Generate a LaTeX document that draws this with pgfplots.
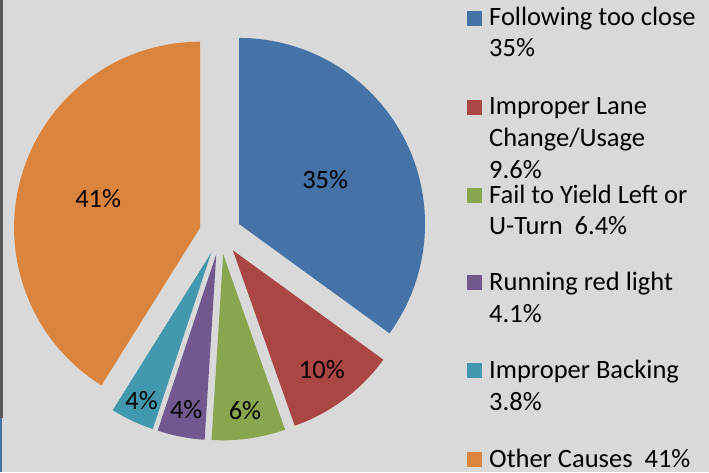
\documentclass[border=0pt]{standalone}
\usepackage{fontspec}
\setmainfont{Carlito}
\usepackage{pgfplots}
\pgfplotsset{compat=1.18}
\usepackage{pgfplotstable}
\definecolor{bg}{HTML}{D9D9D9}
\definecolor{slice0}{HTML}{4572A7}
\definecolor{slice1}{HTML}{AA4643}
\definecolor{slice2}{HTML}{89A54E}
\definecolor{slice3}{HTML}{71588F}
\definecolor{slice4}{HTML}{4198AF}
\definecolor{slice5}{HTML}{DB843D}

% share in percent, label distance as a fraction of the radius
\pgfplotstableread{
share lpos
35.0  0.52
9.6   0.80
6.4   0.85
4.1   0.85
3.8   0.88
41.1  0.57
}\piedata

\newcommand\legkey[2]{\fill[#2] (axis cs:467,{472-#1}) rectangle (axis cs:482,{487-#1});}
\newcommand\legline[2]{\node[anchor=base west, inner sep=0pt] at (axis cs:489,{472-#1}) {#2};}

\begin{document}
\begin{tikzpicture}[font={\fontsize{26.5}{31}\selectfont}]
\begin{axis}[
  hide axis, scale only axis, width=709pt, height=472pt,
  xmin=0, xmax=709, ymin=0, ymax=472, clip=false,
]
\fill[bg] (axis cs:0,0) rectangle (axis cs:709,472);
\fill[black!65] (axis cs:0,54) rectangle (axis cs:2.5,472);
\fill[slice0] (axis cs:0,0) rectangle (axis cs:1.5,54);
\coordinate (ll) at (axis cs:0,0);
\coordinate (ur) at (axis cs:709,472);

\def\cum{0}
\pgfplotsforeachungrouped \i in {0,...,5}{%
  \pgfplotstablegetelem{\i}{share}\of\piedata \let\share\pgfplotsretval
  \pgfplotstablegetelem{\i}{lpos}\of\piedata \let\lpos\pgfplotsretval
  \pgfmathsetmacro\aone{90-3.6*\cum}
  \pgfmathsetmacro\atwo{90-3.6*(\cum+\share)}
  \pgfmathsetmacro\amid{(\aone+\atwo)/2}
  \pgfmathsetmacro\vx{220.3+21*cos(\amid)}
  \pgfmathsetmacro\vy{238.5+21*sin(\amid)}
  \pgfmathsetmacro\lx{\vx+186*\lpos*cos(\amid)}
  \pgfmathsetmacro\ly{\vy+186*\lpos*sin(\amid)}
  \pgfmathtruncatemacro\pct{round(\share)}
  \edef\doslice{\noexpand\fill[slice\i] (axis cs:\vx,\vy) -- ([shift={(\aone:186pt)}]axis cs:\vx,\vy) arc[start angle=\aone, end angle=\atwo, radius=186pt] -- cycle;}
  \doslice
  \edef\dolabel{\noexpand\node at (axis cs:\lx,\ly) {\pct\noexpand\%};}
  \dolabel
  \pgfmathsetmacro\cum{\cum+\share}
}

\legkey{26}{slice0}
\legline{26}{Following too close}
\legline{57}{35\%}
\legkey{115}{slice1}
\legline{115}{Improper Lane}
\legline{147}{Change/Usage}
\legline{178}{9.6\%}
\legkey{203}{slice2}
\legline{203}{Fail to Yield Left or}
\legline{234}{U-Turn\ \ 6.4\%}
\legkey{290}{slice3}
\legline{290}{Running red light}
\legline{322}{4.1\%}
\legkey{378}{slice4}
\legline{378}{Improper Backing}
\legline{410}{3.8\%}
\legkey{467}{slice5}
\legline{467}{Other Causes\ \ 41\%}
\end{axis}
\pgfresetboundingbox
\path[use as bounding box] (ll) rectangle (ur);
\end{tikzpicture}
\end{document}
